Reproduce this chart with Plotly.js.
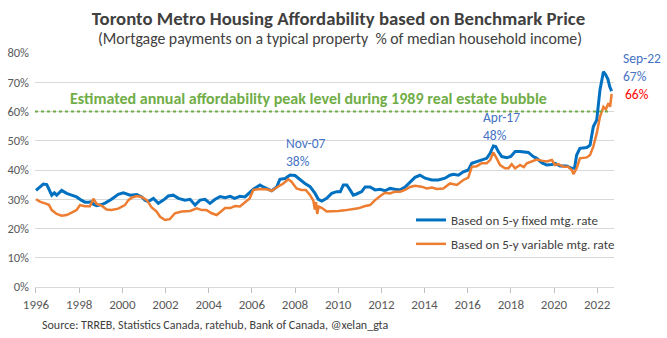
<!DOCTYPE html>
<html>
<head>
<meta charset="utf-8">
<script src="https://cdn.plot.ly/plotly-3.0.1.min.js"></script>
<style>html,body{margin:0;padding:0;background:#fff;}#chart{width:667px;height:338px;}</style>
</head>
<body>
<div id="chart"></div>
<script>
// ---- Data (decimal year, % of median household income) ----
const fixedYears = [1996.0,1996.2,1996.34,1996.5,1996.6,1996.73,1996.85,1996.96,1997.19,1997.42,1997.65,1997.88,1998.1,1998.27,1998.45,1998.58,1998.66,1998.81,1999.04,1999.2,1999.5,1999.81,2000.05,2000.2,2000.36,2000.67,2000.9,2001.05,2001.2,2001.44,2001.67,2001.9,2002.13,2002.36,2002.6,2002.9,2003.14,2003.37,2003.6,2003.83,2004.06,2004.3,2004.53,2004.76,2005.0,2005.2,2005.45,2005.68,2005.84,2006.07,2006.38,2006.53,2006.77,2006.92,2007.15,2007.3,2007.54,2007.77,2008.0,2008.23,2008.46,2008.7,2008.93,2009.08,2009.24,2009.47,2009.7,2009.93,2010.1,2010.24,2010.4,2010.55,2010.7,2010.85,2011.09,2011.25,2011.48,2011.71,2011.94,2012.17,2012.4,2012.63,2012.87,2013.1,2013.33,2013.56,2013.79,2014.03,2014.34,2014.64,2014.95,2015.18,2015.34,2015.57,2015.8,2016.03,2016.19,2016.42,2016.65,2016.88,2017.04,2017.19,2017.3,2017.42,2017.58,2017.81,2018.0,2018.2,2018.43,2018.66,2018.81,2019.04,2019.2,2019.43,2019.66,2019.9,2020.05,2020.28,2020.59,2020.82,2020.95,2021.05,2021.2,2021.52,2021.67,2021.82,2021.98,2022.13,2022.29,2022.4,2022.5,2022.58,2022.67];
const fixedRate  = [33.0,34.5,35.2,35.0,33.5,31.4,32.2,31.4,33.0,32.0,31.4,30.8,29.7,29.0,29.0,29.2,28.3,27.8,28.2,28.7,30.0,31.7,32.2,31.8,31.4,31.6,30.8,29.7,29.2,30.3,28.6,29.7,31.1,31.4,30.3,29.7,30.0,28.0,29.7,30.0,28.6,30.0,30.9,30.5,31.0,30.3,31.0,30.8,32.0,33.4,34.9,34.2,33.4,32.9,34.2,36.8,37.1,38.3,38.1,36.6,35.4,34.3,32.0,30.0,29.4,30.3,32.0,32.6,32.6,34.9,34.9,33.2,31.4,31.8,32.6,34.2,34.2,33.2,33.4,32.9,33.7,33.4,33.2,34.2,35.8,37.5,38.2,37.2,36.6,36.6,37.2,38.2,38.5,38.2,39.4,40.0,42.3,42.9,43.4,44.0,45.7,48.2,48.0,46.3,44.6,44.2,44.6,46.3,46.3,46.0,46.0,44.6,44.0,42.5,41.7,41.9,42.3,41.4,41.4,40.6,40.6,45.1,47.4,47.7,48.5,54.8,57.1,67.4,73.6,72.5,71.0,68.5,67.0];

const variableYears = [1996.0,1996.2,1996.42,1996.6,1996.73,1996.96,1997.19,1997.42,1997.65,1997.88,1998.04,1998.27,1998.5,1998.66,1998.81,1999.04,1999.27,1999.5,1999.81,2000.12,2000.28,2000.45,2000.67,2000.9,2001.13,2001.36,2001.59,2001.75,2001.98,2002.2,2002.44,2002.75,2003.14,2003.45,2003.68,2003.9,2004.14,2004.37,2004.6,2004.76,2005.0,2005.22,2005.45,2005.68,2005.9,2006.07,2006.38,2006.69,2006.92,2007.15,2007.46,2007.69,2007.84,2008.07,2008.3,2008.5,2008.7,2008.85,2008.92,2008.97,2009.03,2009.1,2009.25,2009.47,2009.7,2010.0,2010.3,2010.63,2010.93,2011.25,2011.48,2011.71,2011.86,2012.0,2012.17,2012.4,2012.63,2012.87,2013.1,2013.33,2013.56,2013.87,2014.1,2014.34,2014.57,2014.87,2015.18,2015.5,2015.8,2016.03,2016.19,2016.42,2016.65,2016.88,2017.04,2017.19,2017.35,2017.5,2017.73,2017.89,2018.04,2018.2,2018.43,2018.6,2018.74,2018.97,2019.2,2019.43,2019.66,2019.9,2020.05,2020.2,2020.44,2020.65,2020.82,2020.9,2021.05,2021.2,2021.52,2021.67,2021.82,2021.98,2022.13,2022.29,2022.4,2022.52,2022.6,2022.67];
const variableRate  = [30.0,29.1,28.6,28.1,26.3,25.0,24.4,24.6,25.4,26.3,28.0,27.6,27.6,30.2,28.4,27.8,26.5,26.3,26.8,28.0,29.7,30.6,31.1,30.8,29.7,27.2,25.8,24.0,22.9,23.2,25.2,25.8,26.0,26.9,26.3,26.3,25.2,24.6,26.0,27.0,27.0,27.7,27.5,28.8,30.3,33.2,33.5,33.4,32.9,34.0,35.4,36.8,36.0,33.7,33.2,33.2,31.4,29.5,26.5,29.0,25.0,27.5,27.0,25.8,25.8,26.0,26.2,26.5,26.9,27.7,28.0,29.7,30.7,31.4,32.2,32.0,32.6,32.6,33.2,34.2,34.6,34.3,33.7,34.0,33.5,33.7,35.4,34.9,36.6,37.4,41.1,41.3,42.3,42.3,43.4,46.0,43.9,41.7,40.6,40.6,42.0,40.6,41.7,41.0,42.3,42.9,43.6,43.2,42.9,43.4,41.7,42.0,41.1,41.1,40.0,38.6,40.6,44.0,44.3,45.1,48.0,52.5,58.2,61.6,60.7,62.8,61.6,66.0];

const seriesNames = ["Based on 5-y fixed mtg. rate", "Based on 5-y variable mtg. rate"];
const tickYears = [1996,1998,2000,2002,2004,2006,2008,2010,2012,2014,2016,2018,2020,2022];
const tickLabels = tickYears.map(String);
const yTicks = [0,10,20,30,40,50,60,70,80];
const yLabels = yTicks.map(v => v + "%");
const peak1989 = 60;

const FONT = "Calibri, Carlito, Lato, sans-serif";
const BLUE = "#0070C0", ORANGE = "#ED7D31", GREEN = "#70AD47", LBL = "#4472C4";

// plot area in pixels: x 35..614, y 53..287
const PL = 35, PW = 579, PT = 53, PH = 234;
const px = v => (v - PL) / PW;
const py = v => (PT + PH - v) / PH;

const traces = [
  {x: fixedYears, y: fixedRate, name: seriesNames[0], type: "scatter", mode: "lines",
   line: {color: BLUE, width: 3}, legendgroup: "a", hoverinfo: "skip"},
  {x: variableYears, y: variableRate, name: seriesNames[1], type: "scatter", mode: "lines",
   line: {color: ORANGE, width: 2.5}, legendgroup: "b", hoverinfo: "skip"}
];

const layout = {
  width: 667, height: 338,
  margin: {l: PL, r: 667 - PL - PW, t: PT, b: 338 - PT - PH},
  paper_bgcolor: "#fff", plot_bgcolor: "#fff",
  font: {family: FONT, color: "#595959", size: 12},
  title: {text: "<b>Toronto Metro Housing Affordability based on Benchmark Price</b>",
    font: {family: FONT, size: 18.8, color: "#404040"},
    x: 338.5/667, xref: "container", xanchor: "center",
    y: 1 - 18/338, yref: "container", yanchor: "middle"},
  xaxis: {range: [1995.954, 2022.78], tickvals: tickYears, ticktext: tickLabels,
    showgrid: false, zeroline: false, showline: true, linecolor: "#D9D9D9", linewidth: 1,
    ticks: "outside", ticklen: 5, tickcolor: "#BFBFBF", tickfont: {size: 13, color: "#595959"}},
  yaxis: {range: [0, 80], tickvals: yTicks, ticktext: yLabels, showgrid: true, gridcolor: "#D9D9D9",
    zeroline: false, showline: false, ticks: "", ticklabelstandoff: 5, tickfont: {size: 12.5, color: "#595959"}},
  showlegend: true,
  legend: {x: px(411), xref: "paper", y: py(205), yref: "paper", xanchor: "left", yanchor: "top",
    bgcolor: "rgba(0,0,0,0)", font: {size: 13, color: "#404040", family: FONT},
    traceorder: "grouped", tracegroupgap: 4, itemwidth: 30},
  shapes: [{type: "line", xref: "paper", x0: 0, x1: 0.995, yref: "y", y0: peak1989, y1: peak1989,
    line: {color: GREEN, width: 2, dash: "dot"}}],
  annotations: [
    {text: "(Mortgage payments on a typical property  % of median household income)", xref: "paper", yref: "paper",
      x: px(339.5), y: py(38), showarrow: false, xanchor: "center", yanchor: "middle",
      font: {size: 15.8, color: "#404040", family: FONT}},
    {text: "<b>Estimated annual affordability peak level during 1989 real estate bubble</b>", xref: "paper", yref: "paper",
      x: px(308), y: py(98), showarrow: false, xanchor: "center", yanchor: "middle",
      font: {size: 16, color: GREEN, family: FONT}},
    {text: "Nov-07<br>38%", xref: "paper", yref: "paper", x: px(284), y: py(152), showarrow: false, xanchor: "left", yanchor: "middle", align: "left",
      font: {size: 13.5, color: LBL, family: FONT}},
    {text: "Apr-17<br>48%", xref: "paper", yref: "paper", x: px(481), y: py(126), showarrow: false, xanchor: "left", yanchor: "middle", align: "left",
      font: {size: 13.5, color: LBL, family: FONT}},
    {text: "Sep-22<br>67%", xref: "paper", yref: "paper", x: px(621), y: py(67), showarrow: false, xanchor: "left", yanchor: "middle", align: "left",
      font: {size: 13.5, color: LBL, family: FONT}},
    {text: "66%", xref: "paper", yref: "paper", x: px(623), y: py(94), showarrow: false, xanchor: "left", yanchor: "middle",
      font: {size: 13.5, color: "#FF0000", family: FONT}},
    {text: "Source: TRREB, Statistics Canada, ratehub, Bank of Canada, @xelan_gta", xref: "paper", yref: "paper",
      x: px(40), y: py(325), showarrow: false, xanchor: "left", yanchor: "middle",
      font: {size: 12, color: "#404040", family: FONT}}
  ]
};

Plotly.newPlot("chart", traces, layout, {displayModeBar: false, staticPlot: true});
</script>
</body>
</html>
